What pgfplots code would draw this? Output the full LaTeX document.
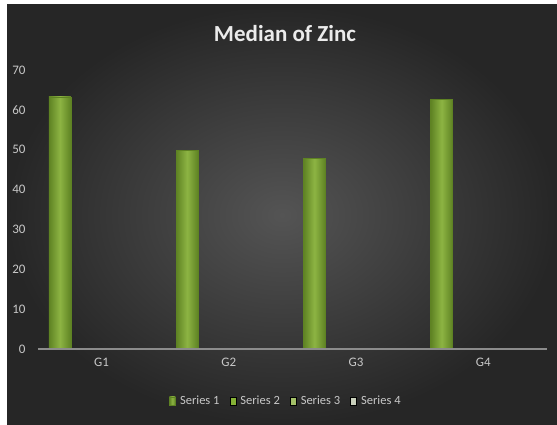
\documentclass[border=0pt]{standalone}
\usepackage{fontspec}
\setmainfont{Carlito}
\usepackage{pgfplots}
\pgfplotsset{compat=1.18}

\definecolor{bgin}{HTML}{545454}
\definecolor{bgout}{HTML}{262626}
\definecolor{barmid}{HTML}{8DB443}
\definecolor{baredge}{HTML}{5E8223}
\definecolor{gridc}{HTML}{606060}
\definecolor{axisc}{HTML}{8C8C8C}
\definecolor{txt}{HTML}{C8C8C8}
\definecolor{sA}{HTML}{6E9A2A}
\definecolor{sB}{HTML}{86B236}
\definecolor{sC}{HTML}{A3C068}
\definecolor{sD}{HTML}{C9D0BC}

\pgfplotsset{zincbar/.style={ybar, bar width=0.173, bar shift=-0.328,
    draw=baredge, line width=0.4pt,
    left color=baredge, right color=baredge, middle color=barmid}}

\begin{document}
\begin{tikzpicture}[x=1pt,y=1pt]
% canvas and dark panel
\fill[white] (0,0) rectangle (557,425);
\shade[inner color=bgin, outer color=bgout] (7,0) rectangle (557,420);
\node[font=\bfseries\fontsize{23}{26}\selectfont, text=white!92!black, anchor=base] at (285,383) {Median of Zinc};

\begin{axis}[
    at={(38pt,76pt)}, anchor=south west,
    scale only axis,
    width=509pt, height=279pt,
    xmin=0.5, xmax=4.5,
    ymin=0, ymax=70,
    xtick={1,2,3,4},
    xticklabels={G1,G2,G3,G4},
    ytick={0,10,...,70},
    major tick length=0pt,
    axis line style={draw=none},
    axis x line*=bottom,
    axis y line=none,
    ymajorgrids=true,
    grid style={gridc, line width=0.8pt},
    ticklabel style={font=\fontsize{13}{15}\selectfont, text=txt},
    xticklabel style={yshift=-6pt},
    /pgf/number format/assume math mode=true,
    legend columns=4,
    legend style={at={(0.487,-0.186)}, anchor=center, draw=none, fill=none,
        font=\fontsize{12.5}{14}\selectfont, text=txt,
        /tikz/every odd column/.append style={column sep=2.5pt},
        /tikz/every even column/.append style={column sep=8pt}},
    legend image code/.code={\fill[#1] (0pt,-4pt) rectangle (6pt,4pt);},
    clip=false,
]
% y labels on the left since axis y line is off
\pgfplotsinvokeforeach{0,10,...,70}{
  \node[anchor=east, font=\fontsize{13}{15}\selectfont, text=txt] at (axis cs:0.5,#1) [xshift=-9pt] {#1};
}
\addplot[zincbar] coordinates {(1,63.3)};
\addlegendentry{Series 1}
\addplot[zincbar, forget plot] coordinates {(2,49.8)};
\addplot[zincbar, forget plot] coordinates {(3,47.8)};
\addplot[zincbar, forget plot] coordinates {(4,62.7)};
\addlegendimage{fill=sB}
\addlegendentry{Series 2}
\addlegendimage{fill=sC}
\addlegendentry{Series 3}
\addlegendimage{fill=sD}
\addlegendentry{Series 4}
\draw[axisc, line width=1.2pt] (axis cs:0.5,0) -- (axis cs:4.5,0);
\end{axis}
\end{tikzpicture}
\end{document}
